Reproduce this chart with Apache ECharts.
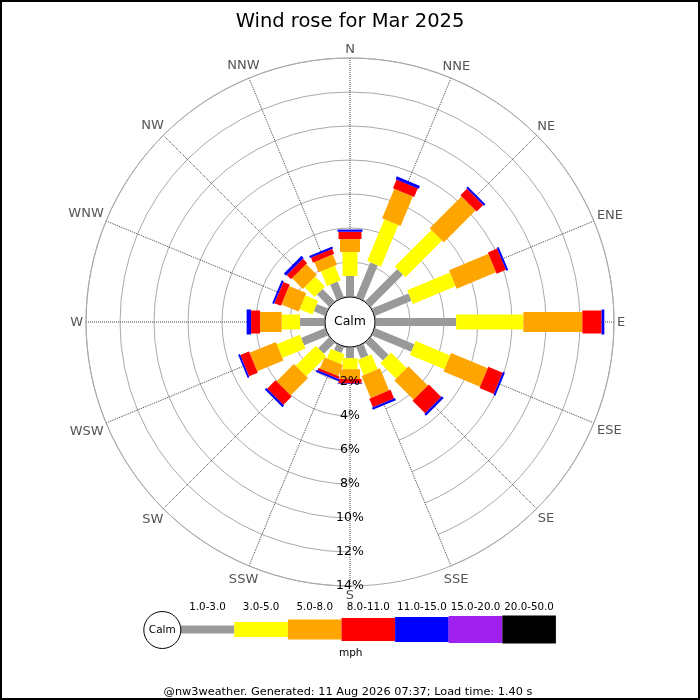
<!DOCTYPE html>
<html lang="en">
<head>
<meta charset="UTF-8">
<title>Wind rose for Mar 2025</title>
<script src="https://cdn.jsdelivr.net/npm/echarts@6/dist/echarts.min.js"></script>
<style>
  html, body { margin: 0; padding: 0; background: #fff; }
  #rose { width: 700px; height: 700px; }
</style>
</head>
<body>
<div id="rose"></div>
<script>
// compass points, clockwise from north
var directions = ['N', 'NNE', 'NE', 'ENE', 'E', 'ESE', 'SE', 'SSE', 'S', 'SSW', 'SW', 'WSW', 'W', 'WNW', 'NW', 'NNW'];
var speedBins = ['1.0-3.0', '3.0-5.0', '5.0-8.0', '8.0-11.0', '11.0-15.0', '15.0-20.0', '20.0-50.0'];
var binColors = ['#999999', '#ffff00', '#ffa500', '#ff0000', '#0000ff', '#a020f0', '#000000'];
var binWidths = [8, 15, 20, 23, 25, 27, 28];

// % of the month per direction, one array per speed bin (mph)
var pct_1_3   = [1.18, 2.17, 2.64, 2.29, 4.71, 2.47, 1.44, 0.70, 0.60, 0.35, 0.88, 1.49, 1.41, 0.68, 0.99, 0.95];
var pct_3_5   = [1.41, 2.66, 3.05, 2.73, 3.96, 2.20, 1.31, 0.96, 0.65, 0.62, 1.67, 1.46, 1.08, 0.82, 0.82, 0.93];
var pct_5_8   = [0.76, 1.88, 2.64, 2.51, 3.47, 2.33, 1.60, 1.41, 0.57, 0.71, 1.45, 1.67, 1.27, 1.09, 0.90, 0.65];
var pct_8_11  = [0.43, 0.55, 0.55, 0.59, 1.13, 0.91, 1.04, 0.55, 0.27, 0.14, 0.69, 0.56, 0.53, 0.41, 0.35, 0.32];
var pct_11_15 = [0.13, 0.18, 0.12, 0.12, 0.16, 0.12, 0.14, 0.13, 0.03, 0.12, 0.13, 0.11, 0.26, 0.12, 0.18, 0.12];
var pct_15_20 = [0, 0, 0, 0, 0, 0, 0, 0, 0, 0, 0, 0, 0, 0, 0, 0];
var pct_20_50 = [0, 0, 0, 0, 0, 0, 0, 0, 0, 0, 0, 0, 0, 0, 0, 0];

var radiusMax = 14;   // %
var radiusStep = 2;

var FONT = 'DejaVu Sans';
var CX = 350, CY = 322;

// radius axis is drawn along the start angle, so start the ring at S (bottom)
var axisDirs = directions.slice(8).concat(directions.slice(0, 8));
function axisIndex(i) { return (i + 8) % 16; }

var binSeries = [pct_1_3, pct_3_5, pct_5_8, pct_8_11, pct_11_15, pct_15_20, pct_20_50];
var barData = [];
for (var i = 0; i < directions.length; i++) {
  var cum = 0;
  for (var b = 0; b < binSeries.length; b++) {
    var v = binSeries[b][i];
    if (v > 0) barData.push([cum + v, axisIndex(i), cum, b]);
    cum += v;
  }
}
var labelData = [];
for (var k = 0; k < axisDirs.length; k++) labelData.push([radiusMax, k]);

var measureCtx = document.createElement('canvas').getContext('2d');
measureCtx.font = '13px "' + FONT + '"';

function unitAlong(api, a) {
  var p0 = api.coord([0, a]), p1 = api.coord([radiusMax, a]);
  var dx = p1[0] - p0[0], dy = p1[1] - p0[1];
  var len = Math.sqrt(dx * dx + dy * dy) || 1;
  return [dx / len, dy / len];
}

function renderBar(params, api) {
  var end = api.value(0), a = api.value(1), start = api.value(2), b = api.value(3);
  var p0 = api.coord([start, a]), p1 = api.coord([end, a]);
  var u = unitAlong(api, a);
  var hw = binWidths[b] / 2;
  var nx = -u[1] * hw, ny = u[0] * hw;
  return {
    type: 'polygon',
    shape: { points: [
      [p0[0] + nx, p0[1] + ny], [p1[0] + nx, p1[1] + ny],
      [p1[0] - nx, p1[1] - ny], [p0[0] - nx, p0[1] - ny]
    ] },
    style: { fill: binColors[b] }
  };
}

function renderDirLabel(params, api) {
  var a = api.value(1);
  var p = api.coord([radiusMax, a]);
  var u = unitAlong(api, a);
  var name = axisDirs[a];
  var hw = measureCtx.measureText(name).width / 2;
  var off = 3 + hw * Math.abs(u[0]) + 6 * Math.abs(u[1]);
  return {
    type: 'text',
    style: {
      text: name, x: p[0] + u[0] * off, y: p[1] + u[1] * off + 1,
      align: 'center', verticalAlign: 'middle',
      fill: '#555', font: '13px "' + FONT + '"'
    }
  };
}

// legend strip
var legend = [];
var lx = 180.7, lw = 53.6, ly = 629.5;
for (var j = 0; j < speedBins.length; j++) {
  legend.push({
    type: 'rect', z: 30,
    shape: { x: lx + j * lw, y: ly - binWidths[j] / 2, width: lw, height: binWidths[j] },
    style: { fill: binColors[j] }
  });
  legend.push({
    type: 'text', z: 30, x: lx + j * lw + lw / 2, y: 607,
    style: { text: speedBins[j], align: 'center', verticalAlign: 'middle', fill: '#000', font: '10.3px "' + FONT + '"' }
  });
}
legend.push({ type: 'circle', z: 31, shape: { cx: 162.3, cy: 630, r: 18.5 }, style: { fill: '#fff', stroke: '#000', lineWidth: 1 } });
legend.push({ type: 'text', z: 32, x: 162.3, y: 630, style: { text: 'Calm', align: 'center', verticalAlign: 'middle', fill: '#000', font: '10.5px "' + FONT + '"' } });
legend.push({ type: 'text', z: 30, x: 350.7, y: 653, style: { text: 'mph', align: 'center', verticalAlign: 'middle', fill: '#000', font: '10.5px "' + FONT + '"' } });

var myChart = echarts.init(document.getElementById('rose'));
myChart.setOption({
  animation: false,
  backgroundColor: '#fff',
  title: {
    text: 'Wind rose for Mar 2025',
    left: 'center', top: 7,
    textStyle: { fontFamily: FONT, fontSize: 19.5, fontWeight: 'normal', color: '#000' }
  },
  polar: [
    { center: [CX, CY], radius: [26, 264] },
    { center: [CX, CY], radius: [26, 264] }
  ],
  angleAxis: [{
    polarIndex: 0,
    type: 'category',
    data: axisDirs,
    boundaryGap: false,
    startAngle: -90,
    clockwise: true,
    axisLine: { show: true, lineStyle: { color: '#aaa', width: 1 } },
    axisTick: { show: false },
    axisLabel: { show: false },
    splitLine: { show: true, lineStyle: { color: '#444', width: 1, type: 'dotted' } }
  }, {
    polarIndex: 1,
    type: 'category',
    data: axisDirs,
    boundaryGap: false,
    startAngle: -90,
    show: false
  }],
  radiusAxis: [{
    polarIndex: 0,
    min: 0, max: radiusMax, interval: radiusStep,
    axisLine: { show: false },
    axisTick: { show: false },
    axisLabel: { show: false },
    splitLine: { show: true, lineStyle: { color: '#aaa', width: 1 } }
  }, {
    polarIndex: 1,
    z: 10,
    min: 0, max: radiusMax, interval: radiusStep,
    axisLine: { show: false },
    axisTick: { show: false },
    splitLine: { show: false },
    axisLabel: {
      show: true, margin: 0, align: 'center', verticalAlign: 'middle',
      color: '#000', fontFamily: FONT, fontSize: 12.5,
      showMinLabel: false,
      formatter: function (v) { return v === 0 ? '' : v + '%'; }
    }
  }],
  series: [{
    type: 'custom',
    coordinateSystem: 'polar',
    polarIndex: 0,
    silent: true,
    dimensions: ['end', 'dir', 'start', 'bin'],
    encode: { radius: 0, angle: 1 },
    renderItem: renderBar,
    data: barData,
    z: 2
  }, {
    type: 'custom',
    coordinateSystem: 'polar',
    polarIndex: 0,
    silent: true,
    encode: { radius: 0, angle: 1 },
    renderItem: renderDirLabel,
    data: labelData,
    z: 3
  }],
  graphic: [
    { type: 'rect', z: 40, silent: true, shape: { x: 1, y: 1, width: 698, height: 698 }, style: { fill: 'none', stroke: '#000', lineWidth: 2 } },
    { type: 'circle', z: 20, shape: { cx: CX, cy: CY, r: 25 }, style: { fill: '#fff', stroke: '#000', lineWidth: 1 } },
    { type: 'text', z: 21, x: CX, y: CY, style: { text: 'Calm', align: 'center', verticalAlign: 'middle', fill: '#000', font: '12.5px "' + FONT + '"' } },
    { type: 'text', z: 30, x: 348, y: 692.5, style: { text: '@nw3weather. Generated: 11 Aug 2026 07:37; Load time: 1.40 s', align: 'center', verticalAlign: 'middle', fill: '#000', font: '11.3px "' + FONT + '"' } }
  ].concat(legend)
});
</script>
</body>
</html>
